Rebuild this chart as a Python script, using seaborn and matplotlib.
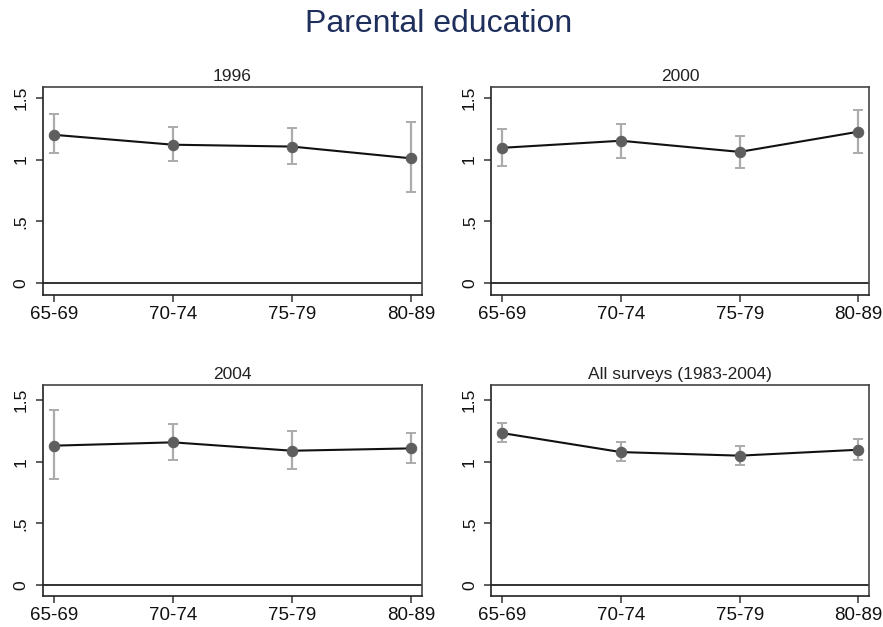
import matplotlib
matplotlib.use("Agg")
import matplotlib.pyplot as plt
import seaborn as sns
import pandas as pd
import numpy as np

# ---- data ----
cohorts = ["65-69", "70-74", "75-79", "80-89"]
panel_titles = ["1996", "2000", "2004", "All surveys (1983-2004)"]

est_1996 = [1.20, 1.12, 1.105, 1.01]
lo_1996 = [1.05, 0.985, 0.962, 0.737]
hi_1996 = [1.37, 1.263, 1.252, 1.30]

est_2000 = [1.095, 1.152, 1.062, 1.225]
lo_2000 = [0.949, 1.016, 0.930, 1.054]
hi_2000 = [1.247, 1.287, 1.192, 1.401]

est_2004 = [1.130, 1.157, 1.089, 1.108]
lo_2004 = [0.859, 1.014, 0.941, 0.989]
hi_2004 = [1.419, 1.305, 1.246, 1.232]

est_all = [1.232, 1.078, 1.049, 1.097]
lo_all = [1.159, 1.008, 0.973, 1.011]
hi_all = [1.314, 1.157, 1.124, 1.186]

ytick_vals = [0, 0.5, 1, 1.5]
ytick_labels = ["0", ".5", "1", "1.5"]

series = [
    (est_1996, lo_1996, hi_1996),
    (est_2000, lo_2000, hi_2000),
    (est_2004, lo_2004, hi_2004),
    (est_all, lo_all, hi_all),
]

sns.set_theme(style="white")
plt.rcParams["font.family"] = ["Liberation Sans", "DejaVu Sans"]

fig = plt.figure(figsize=(8.83, 6.27), dpi=100)
W, H = 883, 627

# axes boxes in pixels: (left, top, right, bottom)
boxes = [
    (42.7, 86.7, 421.7, 295.0),
    (491.0, 86.7, 869.0, 295.0),
    (42.7, 385.0, 421.7, 596.0),
    (491.0, 385.0, 869.0, 596.0),
]
ylims = [(-0.095, 1.589), (-0.095, 1.589), (-0.089, 1.622), (-0.089, 1.622)]

for i, (box, (est, lo, hi), title) in enumerate(zip(boxes, series, panel_titles)):
    l, t, r, b = box
    ax = fig.add_axes([l / W, 1 - b / H, (r - l) / W, (b - t) / H])
    df = pd.DataFrame({"x": np.arange(len(cohorts)), "est": est, "lo": lo, "hi": hi})
    est_a = df["est"].to_numpy()
    yerr = np.vstack([est_a - df["lo"].to_numpy(), df["hi"].to_numpy() - est_a])
    ax.errorbar(df["x"], est_a, yerr=yerr, fmt="none", ecolor="#ababab",
                elinewidth=1.6, capsize=3.8, capthick=1.4, zorder=2)
    ax.axhline(0, color="#222222", lw=1.3, zorder=1)
    sns.lineplot(data=df, x="x", y="est", ax=ax, color="#111111", lw=1.5,
                 marker="o", markersize=7.5, markerfacecolor="#5e5e5e",
                 markeredgecolor="#5e5e5e", zorder=3)
    ax.set_xlim(-0.095, 3.09)
    ax.set_ylim(*ylims[i])
    ax.set_xticks(range(len(cohorts)))
    ax.set_xticklabels(cohorts, fontsize=13.5)
    ax.set_yticks(ytick_vals)
    ax.set_yticklabels(ytick_labels, fontsize=12.5, rotation=90, va="center")
    ax.set_xlabel("")
    ax.set_ylabel("")
    ax.set_title(title, fontsize=12.5, pad=4, color="#222222")
    ax.tick_params(axis="both", direction="out", length=5, width=1.1,
                   color="#333333", bottom=True, left=True, labelcolor="#111111")
    ax.tick_params(axis="y", pad=5)
    ax.tick_params(axis="x", pad=3)
    for s in ax.spines.values():
        s.set_visible(True)
        s.set_color("#444444")
        s.set_linewidth(1.2)
    ax.spines["left"].set_color("#222222")
    ax.spines["bottom"].set_color("#222222")
    ax.set_facecolor("white")

fig.text(0.497, 0.962, "Parental education", ha="center", va="center",
         fontsize=23, color="#1f2f5c")

fig.savefig("out.png", dpi=100, facecolor="white")
